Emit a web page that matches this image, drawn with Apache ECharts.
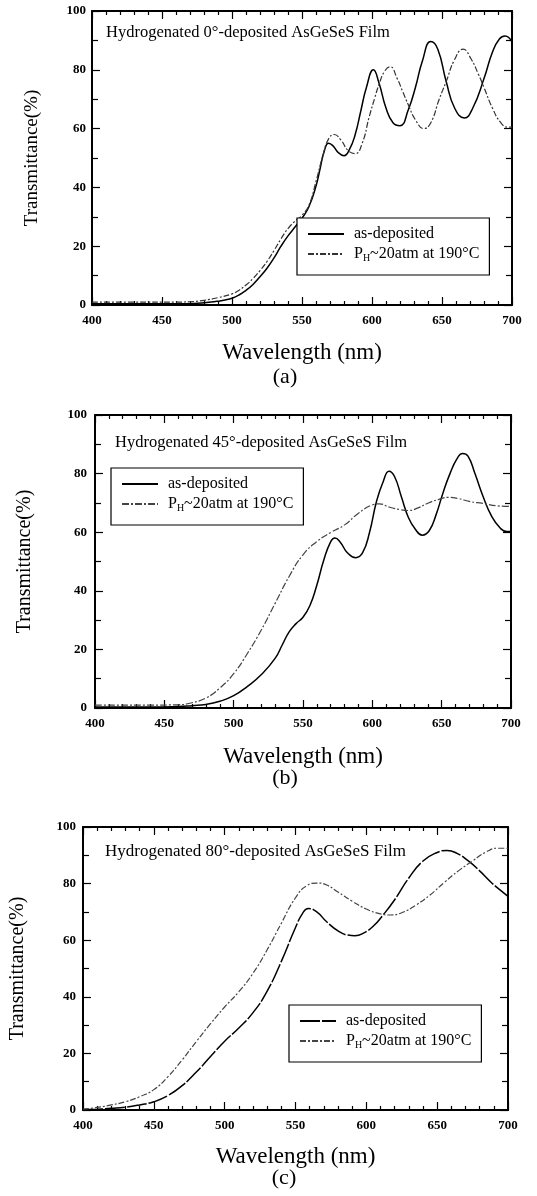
<!DOCTYPE html>
<html>
<head>
<meta charset="utf-8">
<script src="https://cdn.jsdelivr.net/npm/echarts@6/dist/echarts.min.js"></script>
<style>
  html, body { margin: 0; padding: 0; background: #fff; }
  #chart { width: 537px; height: 1196px; }
</style>
</head>
<body>
<div id="chart"></div>
<script>
// tick labels
const wavelengthTicks = [400, 450, 500, 550, 600, 650, 700];
const transTicks = [0, 20, 40, 60, 80, 100];

// (a) 0 deg film, [wavelength nm, transmittance %]
const asDepA = [[400,0.4],[430,0.4],[460,0.4],[475,0.6],[485,1],[490,1.3],[495,1.7],[500,2.3],[505,3.4],[510,5],[515,7],[520,9.6],[525,12.5],[530,16],[535,20],[540,23.5],[545,26.5],[550,29.5],[555,33.5],[560,40.5],[563,46.5],[566,52.5],[569,55],[572,54.2],[576,51.8],[580,50.8],[584,53],[588,58],[592,66],[596,74],[601,80],[605,75.5],[610,67],[615,62],[620,61],[626,66.5],[631,74],[636,83],[642,89.6],[647,87],[653,76],[659,67],[666,63.6],[672,67],[680,77],[686,86],[691,90.5],[695,91.5],[700,89.5]];
const hydA = [[400,1],[430,1],[460,1],[470,1.1],[480,1.6],[490,2.5],[500,3.8],[505,5],[510,6.8],[515,9],[520,11.7],[525,14.8],[530,18.5],[535,22.5],[540,26],[545,28.5],[550,30.5],[555,34],[560,42],[565,51],[569,56.5],[573,58],[578,56],[583,52.5],[588,51.5],[593,55],[598,64],[602,70.5],[605,75],[609,79.5],[613,81],[618,77],[622,72.5],[626,68],[631,63],[637,60],[642,62],[648,70],[653,76],[659,83.5],[665,87],[671,83.5],[676,78.5],[680,74],[686,67],[692,62],[697,60.5],[700,60.5]];

// (b) 45 deg film
const asDepB = [[400,0.3],[440,0.3],[460,0.5],[470,0.8],[480,1.2],[490,2.3],[500,4.2],[510,7.4],[520,11.4],[530,17],[535,21.5],[540,26],[545,28.8],[550,31],[555,35],[560,42],[565,50.5],[570,56.8],[573,58],[577,56.5],[582,53],[588,51.3],[593,53],[598,60],[603,70.5],[608,77.5],[612,80.8],[616,79],[621,72],[626,65],[631,61],[636,59],[641,60.5],[646,66],[651,73.5],[656,80],[661,85],[665,86.9],[669,86],[674,80],[680,72],[686,65.5],[692,61.5],[697,60.2],[700,60.2]];
const hydB = [[400,1],[440,1],[460,1.1],[470,1.8],[480,3.4],[490,6.8],[500,11.7],[510,18.7],[520,26.7],[530,35.8],[540,44.9],[550,52.3],[560,56.8],[570,59.9],[580,62.5],[590,66.5],[600,69.3],[605,69.7],[612,68.6],[620,67.7],[626,67.4],[633,68.3],[640,69.9],[648,71.2],[655,71.9],[662,71.5],[670,70.5],[680,69.8],[690,69],[700,68.8]];

// (c) 80 deg film
const asDepC = [[400,0.2],[410,0.3],[420,0.6],[430,1],[440,1.8],[450,2.9],[460,5.1],[470,8.6],[480,13.4],[490,18.9],[500,24.3],[510,29],[520,34.4],[530,42],[540,52.5],[550,64.5],[555,69.5],[559,71.2],[565,70],[572,66.5],[580,63.3],[587,61.8],[592,61.6],[598,62.5],[605,65],[612,69],[620,74.3],[630,82],[640,88],[650,91],[657,91.7],[664,90.7],[672,88],[680,84.5],[688,80.5],[695,77.5],[700,75.5]];
const hydC = [[400,0.3],[410,0.9],[420,1.8],[430,2.9],[440,4.7],[450,7.2],[460,11.8],[470,17.7],[480,24.2],[490,30.5],[500,36.4],[510,41.8],[520,48.3],[530,56.6],[540,66],[550,75],[558,79.3],[565,80.2],[572,79.5],[580,77],[590,73.8],[600,71],[610,69.3],[617,68.9],[625,69.7],[635,72.4],[645,76],[655,80.4],[665,84.5],[675,88],[685,91.3],[693,92.5],[700,92.5]];

const panelTitles = ['Hydrogenated 0°-deposited AsGeSeS Film', 'Hydrogenated 45°-deposited AsGeSeS Film', 'Hydrogenated 80°-deposited AsGeSeS Film'];
const panelLabels = ['(a)', '(b)', '(c)'];
const seriesNames = { a1: 'as-deposited', a2: 'PH', b1: 'as-deposited', b2: 'PH', c1: 'as-deposited', c2: 'PH' };

const serif = '"Liberation Serif", "Times New Roman", serif';

const grids = [
  { left: 92, top: 11, width: 420, height: 294 },
  { left: 95, top: 415, width: 416, height: 293 },
  { left: 82, top: 827, width: 426, height: 283 }
];
const yNameGaps = [50, 60, 55];
const yNameSizes = [19, 20, 20];
const xNameGaps = [36, 37, 35];
const yLabelMargins = [6, 8, 7];

const tickStyle = { color: '#000', width: 1.2 };

const makeXAxis = (i, position, main) => ({
  type: 'value',
  gridIndex: i,
  position,
  min: wavelengthTicks[0],
  max: wavelengthTicks[wavelengthTicks.length - 1],
  interval: wavelengthTicks[1] - wavelengthTicks[0],
  axisLine: { show: true, onZero: false, lineStyle: { color: '#000', width: 2 } },
  axisTick: { show: true, inside: true, length: 8, lineStyle: tickStyle },
  minorTick: { show: true, splitNumber: 5, length: 4, lineStyle: tickStyle },
  splitLine: { show: false },
  axisLabel: { show: main, margin: 9, color: '#000', fontFamily: serif, fontWeight: 'bold', fontSize: 13 },
  name: main ? 'Wavelength (nm)' : '',
  nameLocation: 'middle',
  nameGap: xNameGaps[i],
  nameTextStyle: { color: '#000', fontFamily: serif, fontSize: 23 }
});

const makeYAxis = (i, position, main) => ({
  type: 'value',
  gridIndex: i,
  position,
  min: transTicks[0],
  max: transTicks[transTicks.length - 1],
  interval: transTicks[1] - transTicks[0],
  axisLine: { show: true, onZero: false, lineStyle: { color: '#000', width: 2 } },
  axisTick: { show: true, inside: true, length: 8, lineStyle: tickStyle },
  minorTick: { show: true, splitNumber: 2, length: 6, lineStyle: tickStyle },
  splitLine: { show: false },
  axisLabel: { show: main, margin: yLabelMargins[i], color: '#000', fontFamily: serif, fontWeight: 'bold', fontSize: 13 },
  name: main ? 'Transmittance(%)' : '',
  nameLocation: 'middle',
  nameRotate: 90,
  nameGap: yNameGaps[i],
  nameTextStyle: { color: '#000', fontFamily: serif, fontSize: yNameSizes[i] }
});

const makeLine = (name, i, data, lineStyle) => ({
  name,
  type: 'line',
  xAxisIndex: i * 2,
  yAxisIndex: i * 2,
  data,
  smooth: 0.5,
  symbol: 'none',
  lineStyle: Object.assign({ color: '#000', width: 1.5 }, lineStyle),
  itemStyle: { color: lineStyle.color || '#000' },
  z: 3
});

const legendRich = {
  n: { fontFamily: serif, fontSize: 16, color: '#000', lineHeight: 18 },
  s: { fontFamily: serif, fontSize: 10, color: '#000', lineHeight: 6, verticalAlign: 'bottom' }
};

const makeLegend = (keys, left, top) => ({
  data: keys,
  orient: 'vertical',
  left,
  top,
  padding: [8, 10, 12, 10],
  itemGap: 4,
  itemWidth: 36,
  itemHeight: 14,
  borderColor: '#000',
  borderWidth: 1.2,
  borderRadius: 0,
  backgroundColor: '#fff',
  selectedMode: false,
  itemStyle: { opacity: 0 },
  formatter: name => seriesNames[name] === 'PH'
    ? '{n|P}{s|H}{n|~20atm at 190°C}'
    : '{n|' + seriesNames[name] + '}',
  textStyle: { padding: [0, 0, 0, 5], width: 125, rich: legendRich }
});

const chart = echarts.init(document.getElementById('chart'), null, { renderer: 'canvas' });

const option = {
  animation: false,
  backgroundColor: '#fff',
  grid: grids,
  xAxis: [0, 1, 2].flatMap(i => [makeXAxis(i, 'bottom', true), makeXAxis(i, 'top', false)]),
  yAxis: [0, 1, 2].flatMap(i => [makeYAxis(i, 'left', true), makeYAxis(i, 'right', false)]),
  legend: [
    makeLegend(['a1', 'a2'], 297, 218),
    makeLegend(['b1', 'b2'], 111, 468),
    makeLegend(['c1', 'c2'], 289, 1005)
  ],
  series: [
    makeLine('a1', 0, asDepA, {}),
    makeLine('a2', 0, hydA, { type: [6, 2, 2, 2], color: '#333', width: 1.2 }),
    makeLine('b1', 1, asDepB, {}),
    makeLine('b2', 1, hydB, { type: [7, 2, 2, 2], color: '#444', width: 1.2 }),
    makeLine('c1', 2, asDepC, { type: [20, 2] }),
    makeLine('c2', 2, hydC, { type: [6, 2, 2, 2], color: '#444', width: 1.2 })
  ],
  graphic: [
    { type: 'text', left: 106, top: 24, style: { text: panelTitles[0], font: '16.5px ' + serif, fill: '#000' } },
    { type: 'text', left: 115, top: 434, style: { text: panelTitles[1], font: '16.5px ' + serif, fill: '#000' } },
    { type: 'text', left: 105, top: 843, style: { text: panelTitles[2], font: '17px ' + serif, fill: '#000' } },
    { type: 'text', x: 285, y: 377, style: { text: panelLabels[0], font: '22px ' + serif, fill: '#000', align: 'center', verticalAlign: 'middle' } },
    { type: 'text', x: 285, y: 778, style: { text: panelLabels[1], font: '22px ' + serif, fill: '#000', align: 'center', verticalAlign: 'middle' } },
    { type: 'text', x: 284, y: 1178, style: { text: panelLabels[2], font: '22px ' + serif, fill: '#000', align: 'center', verticalAlign: 'middle' } }
  ]
};

chart.setOption(option);
</script>
</body>
</html>
